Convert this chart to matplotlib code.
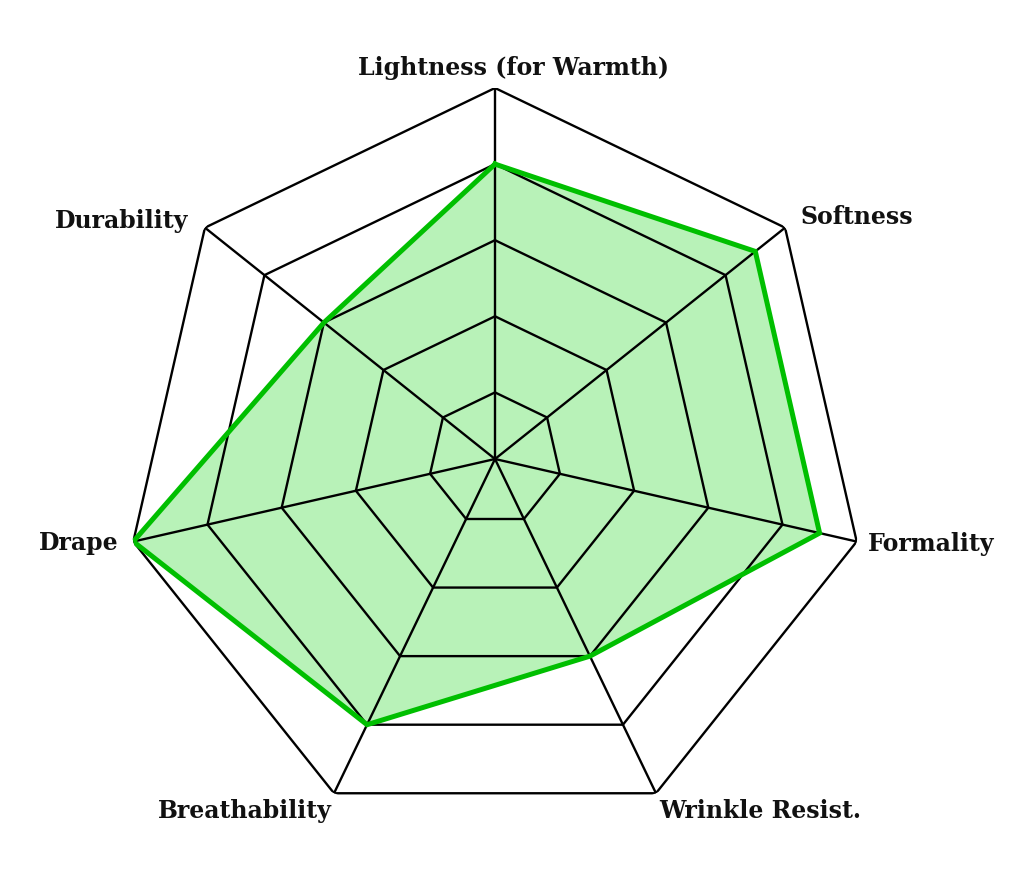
import numpy as np
import matplotlib
matplotlib.use("Agg")
import matplotlib.pyplot as plt
from matplotlib.font_manager import FontProperties

categories = ["Lightness (for Warmth)", "Softness", "Formality", "Wrinkle Resist.",
              "Breathability", "Drape", "Durability"]
values = [8, 9, 9, 6, 8, 10, 6]
ring_levels = [2, 4, 6, 8, 10]
r_min, r_max = 0.25, 10

# label placement (offset in pixels from the outer vertex, alignment)
label_style = {
    "Lightness (for Warmth)": ((19, 13), "center"),
    "Softness": ((15, 4), "left"),
    "Formality": ((11, -9), "left"),
    "Wrinkle Resist.": ((3, -25), "left"),
    "Breathability": ((-2, -25), "right"),
    "Drape": ((-15, -8), "right"),
    "Durability": ((-17, 0), "right"),
}

fp = FontProperties(family="DejaVu Serif", weight="bold", size=17)

W, H = 1035, 872
fig = plt.figure(figsize=(W / 100, H / 100), dpi=100)
cx, cy, R = 495, 459, 371
ax = fig.add_axes([(cx - R) / W, (H - cy - R) / H, 2 * R / W, 2 * R / H], projection="polar")
ax.set_theta_offset(np.pi / 2)
ax.set_theta_direction(-1)
ax.set_ylim(r_min, r_max)
ax.set_xticks([])
ax.set_yticks([])
ax.grid(False)
ax.spines["polar"].set_visible(False)
ax.patch.set_visible(False)

n = len(categories)
theta = np.arange(n) * 2 * np.pi / n
theta_closed = np.append(theta, theta[0])

# data fill
vals_closed = np.append(values, values[0])
ax.fill(theta_closed, vals_closed, color="#b8f2b8", zorder=1)

# polygon grid
for lvl in ring_levels:
    ax.plot(theta_closed, [lvl] * (n + 1), color="black", lw=1.7, zorder=2)
for t in theta:
    ax.plot([t, t], [r_min, r_max], color="black", lw=1.7, zorder=2)

# data line
ax.plot(theta_closed, vals_closed, color="#00bf00", lw=3.6, zorder=3,
        solid_joinstyle="miter")

for t, cat in zip(theta, categories):
    (dx, dy), ha = label_style[cat]
    ax.annotate(cat, xy=(t, r_max), xytext=(dx, dy), textcoords="offset pixels",
                ha=ha, va="baseline", fontproperties=fp,
                color="#111111", annotation_clip=False)

fig.savefig("out.png", dpi=100, facecolor="white")
